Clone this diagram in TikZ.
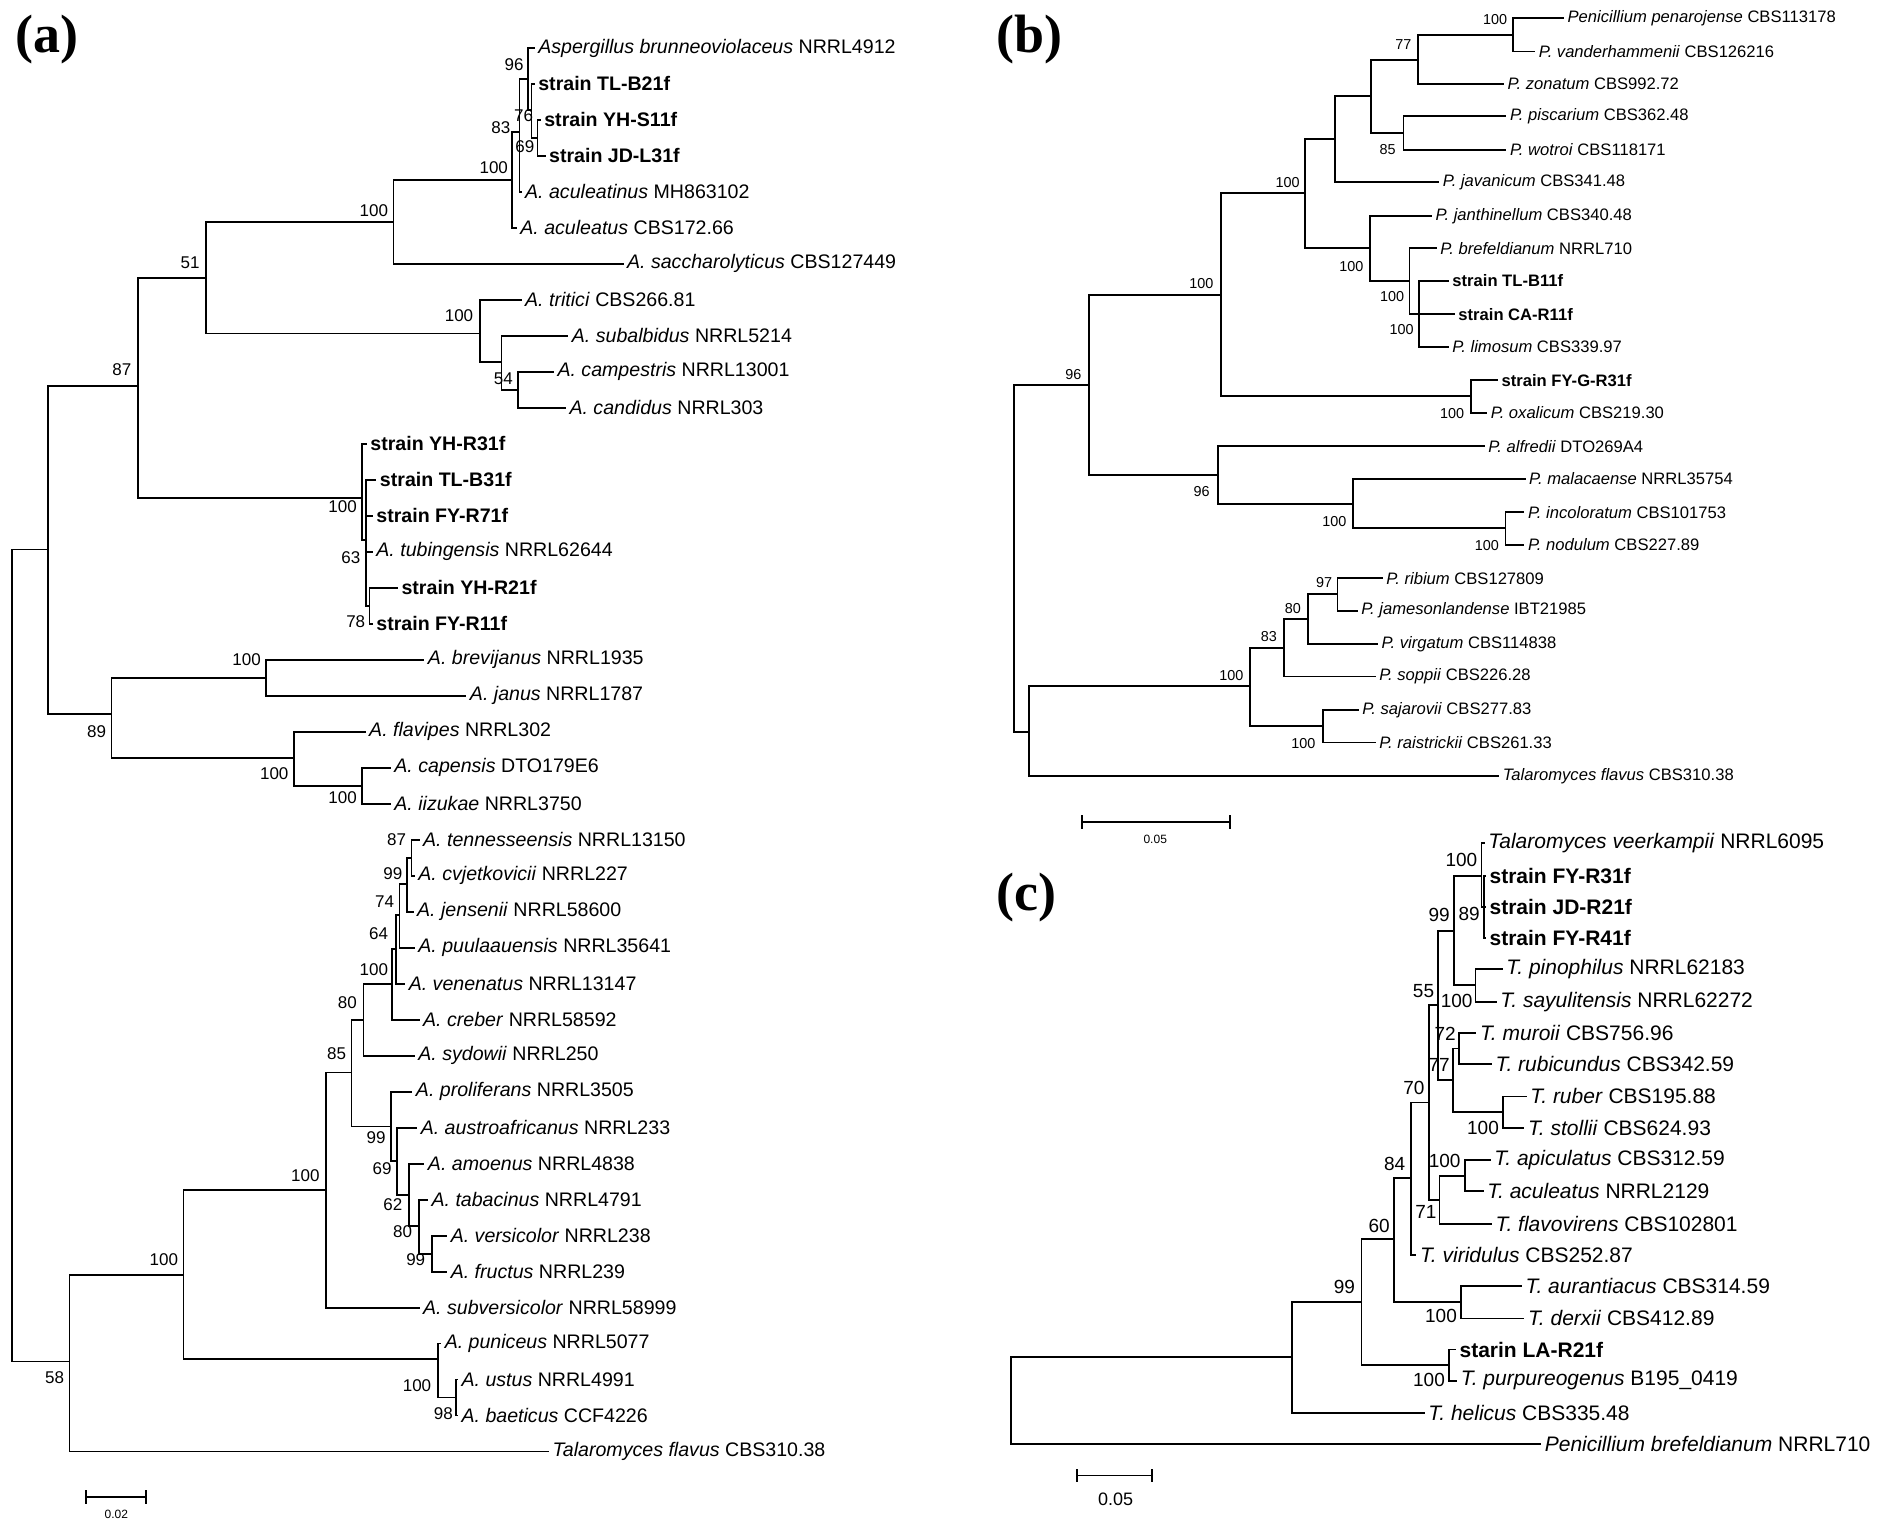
\documentclass[tikz,border=0pt]{standalone}
\usepackage{fontspec}
\setmainfont{Liberation Sans}
\newfontfamily\tms{Liberation Serif}
\begin{document}
\begin{tikzpicture}[x=0.6pt,y=-0.6pt,line width=0.9pt,line cap=rect]
\tikzset{lab/.style={anchor=west,inner sep=0pt,font=\fontsize{9.8}{11}\selectfont},
 bsl/.style={anchor=east,inner sep=0.5pt,font=\fontsize{8.5}{9}\selectfont},
 pan/.style={anchor=north west,inner sep=0pt,font=\tms\bfseries\fontsize{27}{30}\selectfont}}
\newcommand\Cl[5]{\draw (#1,#3)--(#2,#3); \draw (#2,#4)--(#2,#5);}
\newcommand\Lf[4]{\draw (#1,#3)--({#2-3},#3); \node[lab] at (#2,#3) {#4};}
\newcommand\Bs[3]{\node[bsl] at (#1,#2) {#3};}
\newcommand\I[1]{\textit{#1}}
\newcommand\St[1]{\textbf{#1}}
\useasboundingbox (0,0) rectangle (1568,1275);
\fill[white] (0,0) rectangle (1568,1275);
\node[pan] at (12,12) {(a)};
\node[pan] at (830,12) {(b)};
\node[pan] at (830,727) {(c)};
% ---------------- (a)
\begin{scope}
\draw (10,458)--(10,1135);
\Cl{10}{40}{458}{322}{595}
\Cl{40}{115}{322}{232}{415}
\Cl{115}{172}{232}{185}{278}
\Cl{172}{328}{185}{150}{220}
\Cl{328}{427}{150}{110}{190}
\Cl{427}{433}{110}{66}{160}
\Cl{433}{440}{66}{40}{92}
\Lf{440}{448}{40}{\I{Aspergillus brunneoviolaceus} NRRL4912}
\Cl{440}{443}{92}{70}{115}
\Lf{443}{448}{70}{\St{strain TL-B21f}}
\Cl{443}{448}{115}{100}{130}
\Lf{448}{453}{100}{\St{strain YH-S11f}}
\Lf{448}{457}{130}{\St{strain JD-L31f}}
\Lf{433}{437}{160}{\I{A. aculeatinus} MH863102}
\Lf{427}{433}{190}{\I{A. aculeatus} CBS172.66}
\Lf{328}{522}{220}{\I{A. saccharolyticus} CBS127449}
\Cl{172}{400}{278}{250}{302}
\Lf{400}{437}{250}{\I{A. tritici} CBS266.81}
\Cl{400}{418}{302}{280}{325}
\Lf{418}{476}{280}{\I{A. subalbidus} NRRL5214}
\Cl{418}{432}{325}{310}{340}
\Lf{432}{464}{310}{\I{A. campestris} NRRL13001}
\Lf{432}{474}{340}{\I{A. candidus} NRRL303}
\Cl{115}{302}{415}{370}{450}
\Lf{302}{308}{370}{\St{strain YH-R31f}}
\Cl{302}{305}{450}{400}{505}
\Lf{305}{316}{400}{\St{strain TL-B31f}}
\Lf{305}{313}{430}{\St{strain FY-R71f}}
\Lf{305}{313}{460}{\I{A. tubingensis} NRRL62644}
\Cl{305}{308}{505}{490}{520}
\Lf{308}{334}{490}{\St{strain YH-R21f}}
\Lf{308}{313}{520}{\St{strain FY-R11f}}
\Cl{40}{93}{595}{565}{632}
\Cl{93}{222}{565}{550}{580}
\Lf{222}{356}{550}{\I{A. brevijanus} NRRL1935}
\Lf{222}{391}{580}{\I{A. janus} NRRL1787}
\Cl{93}{245}{632}{610}{655}
\Lf{245}{307}{610}{\I{A. flavipes} NRRL302}
\Cl{245}{302}{655}{640}{670}
\Lf{302}{328}{640}{\I{A. capensis} DTO179E6}
\Lf{302}{328}{670}{\I{A. iizukae} NRRL3750}
\Cl{10}{58}{1135}{1063}{1210}
\Lf{58}{460}{1210}{\I{Talaromyces flavus} CBS310.38}
\Cl{58}{153}{1063}{992}{1133}
\Cl{153}{272}{992}{894}{1090}
\Cl{272}{293}{894}{850}{939}
\Cl{293}{303}{850}{820}{880}
\Cl{303}{327}{820}{791}{850}
\Cl{327}{330}{791}{763}{820}
\Cl{330}{333}{763}{737}{790}
\Cl{333}{339}{737}{715}{760}
\Cl{339}{343}{715}{700}{730}
\Lf{343}{352}{700}{\I{A. tennesseensis} NRRL13150}
\Lf{343}{348}{730}{\I{A. cvjetkovicii} NRRL227}
\Lf{339}{347}{760}{\I{A. jensenii} NRRL58600}
\Lf{333}{348}{790}{\I{A. puulaauensis} NRRL35641}
\Lf{330}{340}{820}{\I{A. venenatus} NRRL13147}
\Lf{327}{352}{850}{\I{A. creber} NRRL58592}
\Lf{303}{348}{880}{\I{A. sydowii} NRRL250}
\Cl{293}{326}{939}{910}{968}
\Lf{326}{346}{910}{\I{A. proliferans} NRRL3505}
\Cl{326}{331}{968}{940}{996}
\Lf{331}{350}{940}{\I{A. austroafricanus} NRRL233}
\Cl{331}{341}{996}{970}{1022}
\Lf{341}{356}{970}{\I{A. amoenus} NRRL4838}
\Cl{341}{349}{1022}{1000}{1045}
\Lf{349}{359}{1000}{\I{A. tabacinus} NRRL4791}
\Cl{349}{360}{1045}{1030}{1060}
\Lf{360}{375}{1030}{\I{A. versicolor} NRRL238}
\Lf{360}{375}{1060}{\I{A. fructus} NRRL239}
\Lf{272}{352}{1090}{\I{A. subversicolor} NRRL58999}
\Cl{153}{365}{1133}{1120}{1165}
\Lf{365}{370}{1120}{\I{A. puniceus} NRRL5077}
\Cl{365}{380}{1165}{1150}{1180}
\Lf{380}{384}{1150}{\I{A. ustus} NRRL4991}
\Lf{380}{384}{1180}{\I{A. baeticus} CCF4226}
\Bs{438}{54}{96}\Bs{427}{106}{83}\Bs{446}{96}{76}\Bs{447}{122}{69}\Bs{425}{140}{100}
\Bs{325}{176}{100}\Bs{168}{219}{51}\Bs{396}{263}{100}\Bs{429}{316}{54}\Bs{111}{308}{87}
\Bs{299}{422}{100}\Bs{302}{465}{63}\Bs{306}{518}{78}\Bs{219}{550}{100}\Bs{90}{610}{89}
\Bs{242}{645}{100}\Bs{299}{665}{100}\Bs{340}{700}{87}\Bs{337}{728}{99}\Bs{330}{752}{74}
\Bs{325}{778}{64}\Bs{325}{808}{100}\Bs{299}{836}{80}\Bs{290}{878}{85}\Bs{323}{948}{99}
\Bs{328}{974}{69}\Bs{337}{1004}{62}\Bs{345}{1027}{80}\Bs{356}{1050}{99}\Bs{268}{980}{100}
\Bs{150}{1050}{100}\Bs{361}{1155}{100}\Bs{379}{1178}{98}\Bs{55}{1148}{58}
\draw (72,1248)--(122,1248) (72,1243)--(72,1253) (122,1243)--(122,1253);
\node[font=\fontsize{6}{7}\selectfont] at (97,1262) {0.02};
\end{scope}
% ---------------- (b)
\begin{scope}[lab/.append style={font=\fontsize{8.3}{10}\selectfont},bsl/.append style={font=\fontsize{7.2}{8}\selectfont}]
\draw (845,321)--(845,610);
\Cl{845}{908}{321}{246}{396}
\Cl{908}{1018}{246}{161}{330}
\Cl{1018}{1088}{161}{116}{207}
\Cl{1088}{1113}{116}{80}{152}
\Cl{1113}{1143}{80}{50}{111}
\Cl{1143}{1182}{50}{29}{70}
\Cl{1182}{1261}{29}{15}{43}
\Lf{1261}{1306}{15}{\I{Penicillium penarojense} CBS113178}
\Lf{1261}{1282}{43}{\I{P. vanderhammenii} CBS126216}
\Lf{1182}{1256}{70}{\I{P. zonatum} CBS992.72}
\Cl{1143}{1170}{111}{97}{125}
\Lf{1170}{1258}{97}{\I{P. piscarium} CBS362.48}
\Lf{1170}{1258}{125}{\I{P. wotroi} CBS118171}
\Lf{1113}{1202}{152}{\I{P. javanicum} CBS341.48}
\Cl{1088}{1142}{207}{180}{234}
\Lf{1142}{1196}{180}{\I{P. janthinellum} CBS340.48}
\Cl{1142}{1175}{234}{207}{262}
\Lf{1175}{1200}{207}{\I{P. brefeldianum} NRRL710}
\Cl{1175}{1183}{262}{234}{289}
\Lf{1183}{1210}{234}{\St{strain TL-B11f}}
\Lf{1183}{1215}{262}{\St{strain CA-R11f}}
\Lf{1183}{1210}{289}{\I{P. limosum} CBS339.97}
\Cl{1018}{1226}{330}{317}{344}
\Lf{1226}{1251}{317}{\St{strain FY-G-R31f}}
\Lf{1226}{1242}{344}{\I{P. oxalicum} CBS219.30}
\Cl{908}{1015}{396}{372}{420}
\Lf{1015}{1240}{372}{\I{P. alfredii} DTO269A4}
\Cl{1015}{1128}{420}{399}{440}
\Lf{1128}{1274}{399}{\I{P. malacaense} NRRL35754}
\Cl{1128}{1255}{440}{427}{454}
\Lf{1255}{1273}{427}{\I{P. incoloratum} CBS101753}
\Lf{1255}{1273}{454}{\I{P. nodulum} CBS227.89}
\Cl{845}{858}{610}{572}{647}
\Cl{858}{1042}{572}{540}{605}
\Cl{1042}{1070}{540}{516}{564}
\Cl{1070}{1090}{516}{495}{537}
\Cl{1090}{1115}{495}{482}{509}
\Lf{1115}{1155}{482}{\I{P. ribium} CBS127809}
\Lf{1115}{1134}{509}{\I{P. jamesonlandense} IBT21985}
\Lf{1090}{1151}{537}{\I{P. virgatum} CBS114838}
\Lf{1070}{1149}{564}{\I{P. soppii} CBS226.28}
\Cl{1042}{1103}{605}{592}{619}
\Lf{1103}{1135}{592}{\I{P. sajarovii} CBS277.83}
\Lf{1103}{1149}{619}{\I{P. raistrickii} CBS261.33}
\Lf{858}{1252}{647}{\I{Talaromyces flavus} CBS310.38}
\Bs{1258}{16}{100}\Bs{1178}{37}{77}\Bs{1165}{125}{85}\Bs{1085}{152}{100}\Bs{1138}{222}{100}
\Bs{1172}{247}{100}\Bs{1180}{275}{100}\Bs{1222}{345}{100}\Bs{1013}{236}{100}\Bs{903}{312}{96}
\Bs{1010}{410}{96}\Bs{1124}{435}{100}\Bs{1251}{455}{100}\Bs{1112}{486}{97}\Bs{1086}{507}{80}
\Bs{1066}{531}{83}\Bs{1038}{563}{100}\Bs{1098}{620}{100}
\draw (902,685)--(1025,685) (902,680)--(902,690) (1025,680)--(1025,690);
\node[font=\fontsize{6}{7}\selectfont] at (963,700) {0.05};
\end{scope}
% ---------------- (c)
\begin{scope}[lab/.append style={font=\fontsize{10.5}{12}\selectfont},bsl/.append style={font=\fontsize{9.5}{11}\selectfont}]
\draw (843,1131)--(843,1204);
\Cl{843}{1077}{1131}{1085}{1178}
\Cl{1077}{1135}{1085}{1033}{1138}
\Cl{1135}{1162}{1033}{982}{1085}
\Cl{1162}{1176}{982}{919}{1046}
\Cl{1176}{1191}{919}{838}{1000}
\Cl{1191}{1199}{838}{776}{900}
\Cl{1199}{1212}{776}{730}{821}
\Cl{1212}{1235}{730}{703}{756}
\Lf{1235}{1240}{703}{\I{Talaromyces veerkampii} NRRL6095}
\Cl{1235}{1237}{756}{730}{782}
\Lf{1237}{1241}{730}{\St{strain FY-R31f}}
\Lf{1237}{1241}{756}{\St{strain JD-R21f}}
\Lf{1237}{1241}{782}{\St{strain FY-R41f}}
\Cl{1212}{1230}{821}{808}{835}
\Lf{1230}{1255}{808}{\I{T. pinophilus} NRRL62183}
\Lf{1230}{1250}{835}{\I{T. sayulitensis} NRRL62272}
\Cl{1199}{1211}{900}{874}{927}
\Cl{1211}{1216}{874}{861}{887}
\Lf{1216}{1233}{861}{\I{T. muroii} CBS756.96}
\Lf{1216}{1246}{887}{\I{T. rubicundus} CBS342.59}
\Cl{1211}{1253}{927}{914}{940}
\Lf{1253}{1275}{914}{\I{T. ruber} CBS195.88}
\Lf{1253}{1273}{940}{\I{T. stollii} CBS624.93}
\Cl{1191}{1200}{1000}{980}{1020}
\Cl{1200}{1221}{980}{967}{993}
\Lf{1221}{1245}{967}{\I{T. apiculatus} CBS312.59}
\Lf{1221}{1239}{993}{\I{T. aculeatus} NRRL2129}
\Lf{1200}{1246}{1020}{\I{T. flavovirens} CBS102801}
\Lf{1176}{1183}{1046}{\I{T. viridulus} CBS252.87}
\Cl{1162}{1218}{1085}{1072}{1099}
\Lf{1218}{1271}{1072}{\I{T. aurantiacus} CBS314.59}
\Lf{1218}{1273}{1099}{\I{T. derxii} CBS412.89}
\Cl{1135}{1208}{1138}{1125}{1151}
\Lf{1208}{1216}{1125}{\St{starin LA-R21f}}
\Lf{1208}{1217}{1151}{\I{T. purpureogenus} B195\_0419}
\Lf{1077}{1190}{1178}{\I{T. helicus} CBS335.48}
\Lf{843}{1287}{1204}{\I{Penicillium brefeldianum} NRRL710}
\Bs{1233}{717}{100}\Bs{1235}{762}{89}\Bs{1210}{763}{99}\Bs{1229}{834}{100}\Bs{1197}{826}{55}
\Bs{1215}{862}{72}\Bs{1210}{888}{77}\Bs{1251}{940}{100}\Bs{1189}{907}{70}\Bs{1219}{968}{100}
\Bs{1199}{1010}{71}\Bs{1173}{970}{84}\Bs{1160}{1022}{60}\Bs{1216}{1097}{100}\Bs{1131}{1073}{99}
\Bs{1206}{1150}{100}
\draw (898,1230)--(960,1230) (898,1225)--(898,1235) (960,1225)--(960,1235);
\node[font=\fontsize{9}{10}\selectfont] at (930,1250) {0.05};
\end{scope}
\end{tikzpicture}
\end{document}
